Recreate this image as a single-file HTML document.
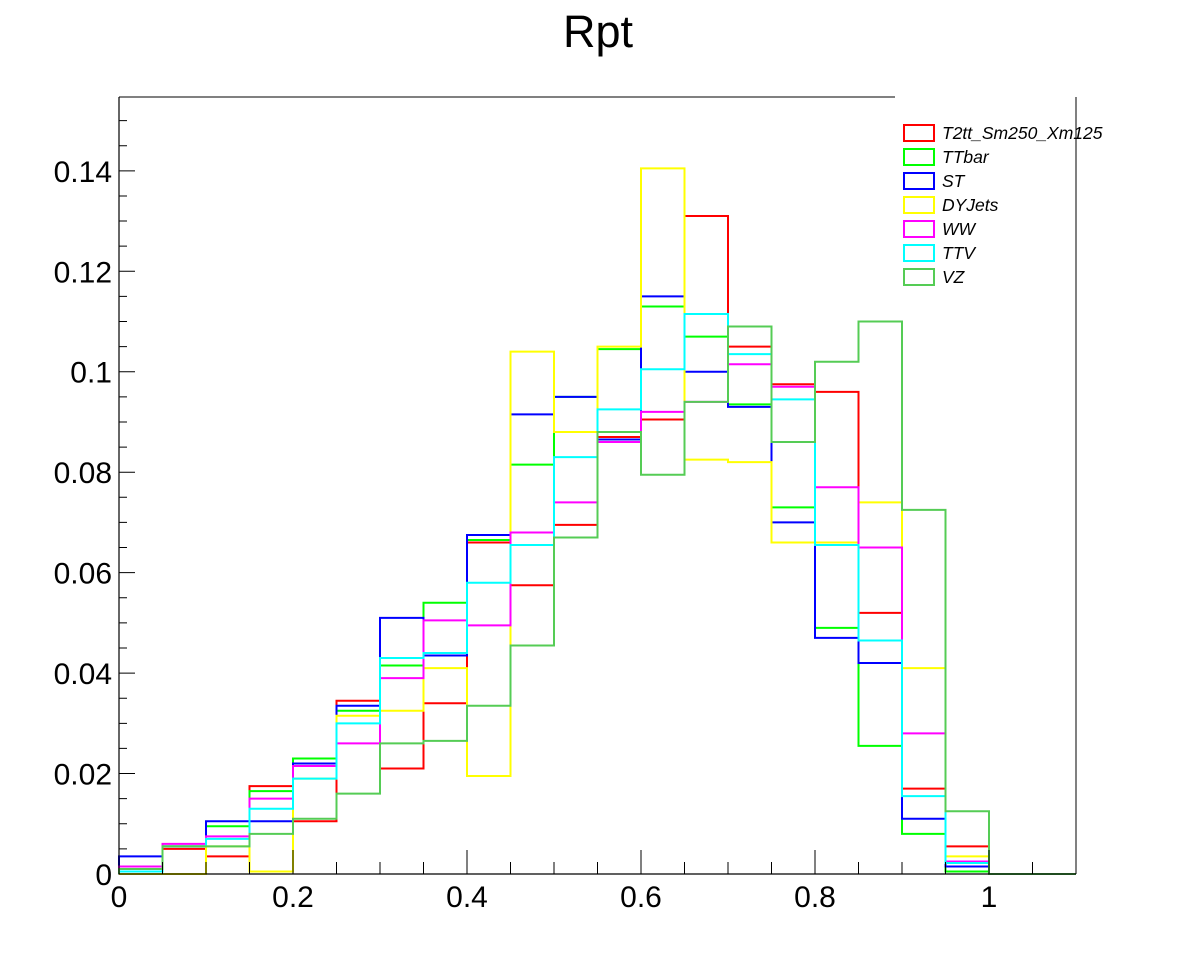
<!DOCTYPE html>
<html><head><meta charset="utf-8"><style>
body{margin:0;background:#fff;}
svg{display:block;font-family:"Liberation Sans",sans-serif;}
</style></head><body>
<svg id="chart" width="1196" height="972">
<text x="598" y="47" text-anchor="middle" font-size="45">Rpt</text>
<g id="frame"></g>
<g id="series"></g>
<g id="axes"></g>
<g id="legend"></g>
</svg>
<script>
const binEdges=[0,0.05,0.1,0.15,0.2,0.25,0.3,0.35,0.4,0.45,0.5,0.55,0.6,0.65,0.7,0.75,0.8,0.85,0.9,0.95,1.0,1.05,1.1];
const seriesNames=["T2tt_Sm250_Xm125","TTbar","ST","DYJets","WW","TTV","VZ"];
const seriesColors=["#ff0000","#00ff00","#0000ff","#ffff00","#ff00ff","#00ffff","#55cc55"];
const t2tt=[0.001,0.005,0.0035,0.0175,0.0105,0.0345,0.021,0.034,0.066,0.0575,0.0695,0.087,0.0905,0.131,0.105,0.0975,0.096,0.052,0.017,0.0055,0,0];
const ttbar=[0.0015,0.0055,0.0095,0.0165,0.023,0.0325,0.0415,0.054,0.0665,0.0815,0.095,0.1045,0.113,0.107,0.0935,0.073,0.049,0.0255,0.008,0.0005,0,0];
const st=[0.0035,0.0055,0.0105,0.0105,0.022,0.0335,0.051,0.0435,0.0675,0.0915,0.095,0.0865,0.115,0.100,0.093,0.070,0.047,0.042,0.011,0.0015,0,0];
const dyjets=[0,0,0.0055,0.0005,0.019,0.0315,0.0325,0.041,0.0195,0.104,0.088,0.105,0.1405,0.0825,0.082,0.066,0.066,0.074,0.041,0.0035,0,0];
const ww=[0.0015,0.006,0.0075,0.015,0.0215,0.026,0.039,0.0505,0.0495,0.068,0.074,0.086,0.092,0.094,0.1015,0.097,0.077,0.065,0.028,0.0025,0,0];
const ttv=[0.0005,0.0055,0.007,0.013,0.019,0.030,0.043,0.044,0.058,0.0655,0.083,0.0925,0.1005,0.1115,0.1035,0.0945,0.0655,0.0465,0.0155,0.0022,0,0];
const vz=[0.001,0.0055,0.0055,0.008,0.011,0.016,0.026,0.0265,0.0335,0.0455,0.067,0.088,0.0795,0.094,0.109,0.086,0.102,0.110,0.0725,0.0125,0,0];
const yTicks=[0,0.02,0.04,0.06,0.08,0.1,0.12,0.14];
const yTickLabels=["0","0.02","0.04","0.06","0.08","0.1","0.12","0.14"];
const xTicks=[0,0.2,0.4,0.6,0.8,1];
const xTickLabels=["0","0.2","0.4","0.6","0.8","1"];
const allSeries=[t2tt,ttbar,st,dyjets,ww,ttv,vz];

const NS="http://www.w3.org/2000/svg";
const X0=119,X1=1076,Y0=874,Y1=97,XMAX=1.1,YMAX=0.1547;
function xs(v){return X0+v/XMAX*(X1-X0);}
function ys(v){return Y0-v/YMAX*(Y0-Y1);}
function mk(tag,attrs,parent){const e=document.createElementNS(NS,tag);for(const k in attrs)e.setAttribute(k,attrs[k]);parent.appendChild(e);return e;}
const frame=document.getElementById('frame'),series=document.getElementById('series'),axes=document.getElementById('axes'),legend=document.getElementById('legend');

let fr=mk('path',{d:`M${X0},${Y1}H895M${X1},${Y1}V${Y0}`,stroke:'#000','stroke-width':1,fill:'none'},frame);



allSeries.forEach((vals,si)=>{
  let d=`M${xs(binEdges[0])},${ys(0)}`;
  vals.forEach((v,i)=>{d+=`V${ys(v)}H${xs(binEdges[i+1])}`;});
  d+=`V${ys(0)}`;
  const p=mk('path',{d:d,stroke:seriesColors[si],'stroke-width':2,fill:'none'},series);
  
  
});

let ax=mk('path',{d:`M${X0},${Y1}V${Y0}H${X1}`,stroke:'#000','stroke-width':1.2,fill:'none'},axes);


let td='';
for(let k=0;k<=31;k++){const v=k*0.005;if(v>YMAX)break;const len=(k%4===0)?16:8;td+=`M${X0},${ys(v)}h${len}`;}
for(let k=0;k<=22;k++){const v=k*0.05;const len=(k%4===0)?24:12;td+=`M${xs(v)},${Y0}v${-len}`;}
let tk=mk('path',{d:td,stroke:'#000','stroke-width':1,fill:'none'},axes);


yTicks.forEach((v,i)=>{
  const t=mk('text',{x:112,y:ys(v)+11,'text-anchor':'end','font-size':30},axes);
  t.textContent=yTickLabels[i];
  
  
});
xTicks.forEach((v,i)=>{
  const t=mk('text',{x:xs(v),y:907,'text-anchor':'middle','font-size':30},axes);
  t.textContent=xTickLabels[i];
  
  
});

let lb=mk('rect',{x:896,y:118,width:179,height:172,fill:'#fff'},legend);


seriesNames.forEach((n,i)=>{
  const y=133+i*24;
  const r=mk('rect',{x:904,y:y-8,width:30,height:16,fill:'none',stroke:seriesColors[i],'stroke-width':2},legend);
  
  
  const t=mk('text',{x:942,y:y+6,'font-size':17.5,'font-style':'italic'},legend);
  t.textContent=n;
  
  
});
</script>
</body></html>
